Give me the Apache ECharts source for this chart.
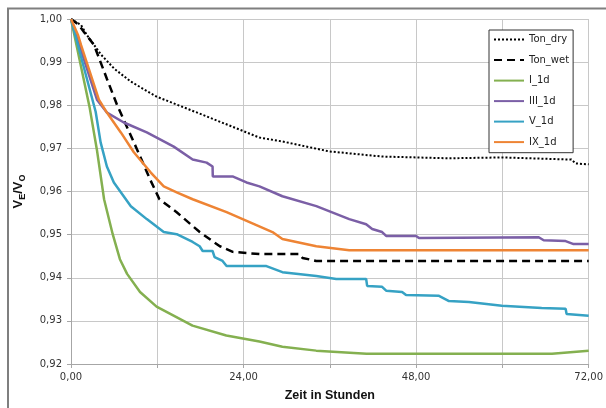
<!DOCTYPE html>
<html>
<head>
<meta charset="utf-8">
<script src="https://cdn.jsdelivr.net/npm/echarts@6/dist/echarts.min.js"></script>
<style>
html,body{margin:0;padding:0;background:#fff;}
#chart{width:606px;height:408px;}
</style>
</head>
<body>
<div id="chart"></div>
<script>
// ---- data (hours, V_E/V_O) ----
var tonDryX = [0,1.4,2.2,4.2,6.0,8.3,11.9,18.9,26.2,29.4,35.9,43.3,52.6,59.9,69.6,70.2,72];
var tonDryY = [1.0,0.9986,0.9963,0.9917,0.9885,0.9855,0.9820,0.9774,0.9725,0.9716,0.9693,0.9681,0.9677,0.9679,0.9674,0.9665,0.9663];

var tonWetX = [0,1.1,1.8,3.2,5.0,6.4,9.2,11.0,12.3,14.7,17.9,20.7,22.5,26.2,31.8,32.2,34.1,72];
var tonWetY = [1.0,0.9986,0.9970,0.9940,0.9861,0.9801,0.9697,0.9628,0.9582,0.9552,0.9506,0.9473,0.9460,0.9455,0.9455,0.9446,0.9439,0.9439];

var i1dX = [0,2.6,3.6,4.6,5.8,6.8,7.8,9.6,11.9,16.9,21.6,26.2,29.4,34.1,41.1,66.9,72];
var i1dY = [1.0,0.9794,0.9697,0.9582,0.9501,0.9443,0.9409,0.9367,0.9333,0.9289,0.9266,0.9252,0.9240,0.9231,0.9224,0.9224,0.9231];

var iii1dX = [0,1.25,3.61,4.99,7.35,10.54,14.29,16.92,18.86,19.69,19.72,22.47,24.41,26.21,29.40,34.12,38.70,41.05,41.89,43.27,43.83,47.99,48.40,65.05,65.74,68.79,69.90,72];
var iii1dY = [1.0,0.9935,0.9813,0.9783,0.9760,0.9737,0.9704,0.9674,0.9667,0.9658,0.9635,0.9635,0.9621,0.9612,0.9589,0.9566,0.9536,0.9524,0.9513,0.9506,0.9497,0.9497,0.9492,0.9494,0.9487,0.9485,0.9478,0.9478];

var v1dX = [0,3.43,4.12,4.99,5.96,8.32,10.54,12.90,14.70,16.92,17.89,18.31,19.69,19.97,21.08,21.64,27.18,29.40,34.12,36.89,41.05,41.19,43.27,43.83,46.05,46.60,51.18,52.57,55.34,59.92,65.46,68.79,68.93,72];
var v1dY = [1.0,0.9785,0.9714,0.9658,0.9621,0.9566,0.9536,0.9506,0.9501,0.9483,0.9473,0.9462,0.9462,0.9448,0.9439,0.9427,0.9427,0.9413,0.9404,0.9397,0.9397,0.9381,0.9379,0.9370,0.9367,0.9360,0.9358,0.9346,0.9344,0.9335,0.9330,0.9328,0.9316,0.9312];

var ix1dX = [0,0.97,1.39,3.88,4.99,6.93,8.74,11.10,12.90,14.70,16.92,21.64,24.83,28.02,29.40,34.12,38.70,72];
var ix1dY = [1.0,0.9963,0.9940,0.9813,0.9783,0.9737,0.9691,0.9644,0.9612,0.9598,0.9582,0.9552,0.9529,0.9506,0.9490,0.9473,0.9464,0.9464];

var seriesNames = ['Ton_dry','Ton_wet','I_1d','III_1d','V_1d','IX_1d'];
var xTicks = [0,24,48,72];

function pairs(xs, ys){ return xs.map(function(x,i){ return [x, ys[i]]; }); }
function comma(v){ return v.toFixed(2).replace('.', ','); }

var chart = echarts.init(document.getElementById('chart'), null, {renderer:'canvas'});
var font = 'DejaVu Sans';

function lineSeries(name, data, color, width, type){
  return {
    name: name, type: 'line', data: data, symbol: 'none', smooth: false,
    lineStyle: {color: color, width: width, type: type},
    itemStyle: {color: color},
    animation: false
  };
}

chart.setOption({
  backgroundColor: '#ffffff',
  animation: false,
  graphic: [{
    type: 'rect',
    shape: {x: 8, y: 8.5, width: 700, height: 500},
    style: {fill: 'none', stroke: '#7f7f7f', lineWidth: 2},
    silent: true, z: -1
  }],
  grid: {left: 71, right: 16, top: 19, bottom: 44, containLabel: false},
  legend: {
    orient: 'vertical', left: 489, top: 30,
    padding: [4, 4, 5, 4],
    itemWidth: 30, itemHeight: 14, itemGap: 9.3,
    itemStyle: {opacity: 0},
    backgroundColor: '#ffffff', borderColor: '#333333', borderWidth: 1,
    textStyle: {fontFamily: font, fontSize: 10, color: '#222'},
    data: seriesNames
  },
  xAxis: {
    type: 'value', min: 0, max: 72, interval: 12,
    name: 'Zeit in Stunden', nameLocation: 'middle', nameGap: 25,
    nameTextStyle: {fontFamily: 'Liberation Sans', fontWeight: 'bold', fontSize: 12.5, color: '#111'},
    axisLine: {show: true, lineStyle: {color: '#a6a6a6'}},
    axisTick: {show: true, length: 4, lineStyle: {color: '#a6a6a6'}},
    axisLabel: {fontFamily: font, fontSize: 10, color: '#333', margin: 8,
      formatter: function(v){ return xTicks.indexOf(v) >= 0 ? comma(v) : ''; }},
    splitLine: {show: true, lineStyle: {color: '#c8c8c8', width: 1}}
  },
  yAxis: {
    type: 'value', min: 0.92, max: 1.0, interval: 0.01,
    name: '{b|V}{s|E}{b|/V}{s|O}', nameLocation: 'middle', nameGap: 44, nameRotate: 90,
    nameTextStyle: {
      rich: {
        b: {fontFamily: 'Liberation Sans', fontWeight: 'bold', fontSize: 13, color: '#111', lineHeight: 18, verticalAlign: 'middle'},
        s: {fontFamily: 'Liberation Sans', fontWeight: 'bold', fontSize: 9, color: '#111', lineHeight: 18, verticalAlign: 'bottom', padding: [6, 0, 0, 0]}
      }
    },
    axisLine: {show: true, lineStyle: {color: '#a6a6a6'}},
    axisTick: {show: true, length: 4, lineStyle: {color: '#a6a6a6'}},
    axisLabel: {fontFamily: font, fontSize: 10, color: '#333', margin: 9,
      formatter: function(v){ return comma(v); }},
    splitLine: {show: true, lineStyle: {color: '#c8c8c8', width: 1}}
  },
  series: [
    lineSeries('Ton_dry', pairs(tonDryX, tonDryY), '#000000', 2, [2, 2]),
    lineSeries('Ton_wet', pairs(tonWetX, tonWetY), '#000000', 2.5, [8, 5]),
    lineSeries('I_1d', pairs(i1dX, i1dY), '#84B050', 2.5, 'solid'),
    lineSeries('III_1d', pairs(iii1dX, iii1dY), '#7B5FA6', 2.5, 'solid'),
    lineSeries('V_1d', pairs(v1dX, v1dY), '#36A2C4', 2.5, 'solid'),
    lineSeries('IX_1d', pairs(ix1dX, ix1dY), '#EE8434', 2.5, 'solid')
  ]
});
</script>
</body>
</html>
